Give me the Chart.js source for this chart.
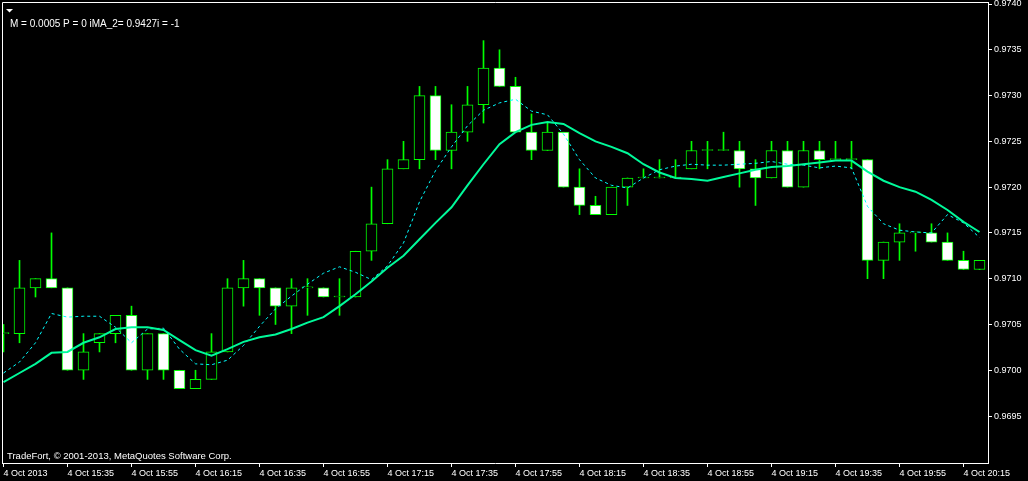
<!DOCTYPE html>
<html>
<head>
<meta charset="utf-8">
<script src="https://cdn.jsdelivr.net/npm/chart.js@4.4.0/dist/chart.umd.min.js"></script>
<style>
html, body { margin: 0; padding: 0; background: #000; }
canvas { display: block; }
</style>
</head>
<body>
<canvas id="chart" width="1028" height="481"></canvas>
<script>
// 5 minute bars, 4 Oct 2013
const barTimes = ['15:15','15:20','15:25','15:30','15:35','15:40','15:45','15:50','15:55','16:00',
  '16:05','16:10','16:15','16:20','16:25','16:30','16:35','16:40','16:45','16:50',
  '16:55','17:00','17:05','17:10','17:15','17:20','17:25','17:30','17:35','17:40',
  '17:45','17:50','17:55','18:00','18:05','18:10','18:15','18:20','18:25','18:30',
  '18:35','18:40','18:45','18:50','18:55','19:00','19:05','19:10','19:15','19:20',
  '19:25','19:30','19:35','19:40','19:45','19:50','19:55','20:00','20:05','20:10',
  '20:15','20:20'];

const opens = [0.9704,0.9704,0.9709,0.9710,0.9709,0.9700,0.9703,0.9704,0.9706,0.9700,
  0.9704,0.9700,0.9698,0.9699,0.9702,0.9709,0.9710,0.9709,0.9707,0.9709,
  0.9709,0.9708,0.9708,0.9713,0.9716,0.9722,0.9723,0.9730,0.9724,0.9726,
  0.9729,0.9733,0.9731,0.9726,0.9724,0.9726,0.9720,0.9718,0.9717,0.9720,
  0.9721,0.9721,0.9721,0.9722,0.9724,0.9724,0.9724,0.9722,0.9721,0.9724,
  0.9720,0.9724,0.9723,0.9723,0.9723,0.9712,0.9714,0.9715,0.9715,0.9714,
  0.9712,0.9711];
const highs = [0.9705,0.9712,0.9710,0.9715,0.9709,0.9704,0.9704,0.9706,0.9707,0.9704,
  0.9704,0.9700,0.9700,0.9704,0.9710,0.9712,0.9710,0.9709,0.9710,0.9710,
  0.9709,0.9710,0.9713,0.9720,0.9723,0.9725,0.9731,0.9731,0.9729,0.9731,
  0.9736,0.9735,0.9732,0.9728,0.9727,0.9726,0.9722,0.9719,0.9720,0.9721,
  0.9722,0.9723,0.9723,0.9725,0.9725,0.9726,0.9725,0.9723,0.9725,0.9725,
  0.9725,0.9725,0.9725,0.9725,0.9723,0.9714,0.9716,0.9715,0.9716,0.9715,
  0.9713,0.9712];
const lows = [0.9702,0.9703,0.9708,0.9709,0.9700,0.9699,0.9702,0.9703,0.9700,0.9699,
  0.9699,0.9698,0.9698,0.9699,0.9702,0.9707,0.9706,0.9705,0.9704,0.9706,
  0.9708,0.9706,0.9708,0.9712,0.9716,0.9722,0.9722,0.9723,0.9722,0.9725,
  0.9727,0.9731,0.9726,0.9723,0.9724,0.9720,0.9717,0.9717,0.9717,0.9718,
  0.9721,0.9721,0.9721,0.9722,0.9722,0.9724,0.9720,0.9718,0.9721,0.9720,
  0.9720,0.9722,0.9723,0.9722,0.9710,0.9710,0.9712,0.9713,0.9714,0.9712,
  0.9711,0.9711];
const closes = [0.9704,0.9709,0.9710,0.9709,0.9700,0.9702,0.9704,0.9706,0.9700,0.9704,
  0.9700,0.9698,0.9699,0.9702,0.9709,0.9710,0.9709,0.9707,0.9709,0.9709,
  0.9708,0.9708,0.9713,0.9716,0.9722,0.9723,0.9730,0.9724,0.9726,0.9729,
  0.9733,0.9731,0.9726,0.9724,0.9726,0.9720,0.9718,0.9717,0.9720,0.9721,
  0.9721,0.9721,0.9721,0.9724,0.9724,0.9724,0.9722,0.9721,0.9724,0.9720,
  0.9724,0.9723,0.9723,0.9723,0.9712,0.9714,0.9715,0.9715,0.9714,0.9712,
  0.9711,0.9712];

// solid moving average
const maSlow = [0.96987,0.96997,0.97007,0.97019,0.97020,0.97030,0.97036,0.97045,0.97047,0.97047,
  0.97044,0.97033,0.97022,0.97016,0.97023,0.97031,0.97036,0.97039,0.97045,0.97052,
  0.97058,0.97070,0.97083,0.97097,0.97112,0.97125,0.97143,0.97161,0.97178,0.97202,
  0.97225,0.97247,0.97260,0.97268,0.97271,0.97269,0.97259,0.97250,0.97244,0.97237,
  0.97225,0.97216,0.97210,0.97209,0.97207,0.97211,0.97215,0.97219,0.97222,0.97223,
  0.97225,0.97227,0.97229,0.97229,0.97217,0.97207,0.97200,0.97195,0.97186,0.97175,
  0.97162,0.97151];
// dashed moving average
const maFast = [0.96997,0.97009,0.97030,0.97062,0.97058,0.97059,0.97059,0.97047,0.97030,0.97045,
  0.97046,0.97023,0.97007,0.97006,0.97011,0.97027,0.97048,0.97067,0.97081,0.97094,
  0.97106,0.97113,0.97107,0.97099,0.97114,0.97139,0.97184,0.97218,0.97244,0.97267,
  0.97284,0.97292,0.97296,0.97283,0.97279,0.97258,0.97230,0.97210,0.97202,0.97199,
  0.97210,0.97219,0.97223,0.97225,0.97224,0.97224,0.97225,0.97226,0.97228,0.97225,
  0.97224,0.97221,0.97223,0.97221,0.97179,0.97160,0.97153,0.97151,0.97150,0.97170,
  0.97161,0.97145];

const xTickIndex = [0,4,8,12,16,20,24,28,32,36,40,44,48,52,56,60];
const xTickLabels = ['4 Oct 2013','4 Oct 15:35','4 Oct 15:55','4 Oct 16:15','4 Oct 16:35',
  '4 Oct 16:55','4 Oct 17:15','4 Oct 17:35','4 Oct 17:55','4 Oct 18:15','4 Oct 18:35',
  '4 Oct 18:55','4 Oct 19:15','4 Oct 19:35','4 Oct 19:55','4 Oct 20:15'];
const yTicks = [0.9695,0.9700,0.9705,0.9710,0.9715,0.9720,0.9725,0.9730,0.9735,0.9740];

const FONT = {family: 'Liberation Sans', size: 9};
const GREEN = '#00FF00';

Chart.defaults.font.family = FONT.family;
Chart.defaults.color = '#FFFFFF';

// candles: wick = thin floating bar, body = open/close floating bar
const wickData = barTimes.map((t, i) => ({x: i, y: [lows[i], highs[i]]}));
const bodyData = barTimes.map((t, i) => ({x: i, y: [opens[i], closes[i]]}));
const bodyFill = barTimes.map((t, i) => closes[i] < opens[i] ? '#FFFFFF' : '#000000');

const decorations = {
    id: 'decorations',
    beforeDraw(chart) {
        const ctx = chart.ctx;
        ctx.save();
        ctx.fillStyle = '#000';
        ctx.fillRect(0, 0, chart.width, chart.height);
        ctx.restore();
    },
    afterDraw(chart) {
        const ctx = chart.ctx;
        const a = chart.chartArea;
        ctx.save();
        // left + top frame
        ctx.strokeStyle = '#FFFFFF';
        ctx.lineWidth = 1;
        ctx.beginPath();
        ctx.moveTo(a.left + 0.5, a.bottom);
        ctx.lineTo(a.left + 0.5, a.top + 0.5);
        ctx.lineTo(a.right + 1, a.top + 0.5);
        ctx.stroke();
        // little menu triangle
        ctx.fillStyle = '#FFFFFF';
        ctx.beginPath();
        ctx.moveTo(6, 9);
        ctx.lineTo(13, 9);
        ctx.lineTo(9.5, 12.5);
        ctx.closePath();
        ctx.fill();
        ctx.textBaseline = 'alphabetic';
        ctx.font = '10px ' + FONT.family;
        ctx.fillText('M = 0.0005 P = 0 iMA_2= 0.9427i = -1', 10, 27);
        ctx.font = '9.5px ' + FONT.family;
        ctx.fillText('TradeFort, \u00A9 2001-2013, MetaQuotes Software Corp.', 7, 459);
        ctx.restore();
    }
};

new Chart(document.getElementById('chart'), {
    type: 'bar',
    data: {
        datasets: [
            {
                type: 'line',
                label: 'MA slow',
                data: barTimes.map((t, i) => ({x: i, y: maSlow[i]})),
                borderColor: '#00FA9A',
                borderWidth: 2,
                pointRadius: 0,
                tension: 0,
                fill: false,
                order: 0
            },
            {
                type: 'line',
                label: 'MA fast',
                data: barTimes.map((t, i) => ({x: i, y: maFast[i]})),
                borderColor: '#00FFFF',
                borderWidth: 1,
                borderDash: [3, 3],
                pointRadius: 0,
                tension: 0,
                fill: false,
                order: 0
            },
            {
                label: 'body',
                data: bodyData,
                backgroundColor: bodyFill,
                borderColor: GREEN,
                borderWidth: 1,
                borderSkipped: false,
                barThickness: 11,
                minBarLength: 1,
                grouped: false,
                order: 1
            },
            {
                label: 'wick',
                data: wickData,
                backgroundColor: GREEN,
                borderWidth: 0,
                barThickness: 1,
                grouped: false,
                order: 2
            }
        ]
    },
    options: {
        responsive: false,
        maintainAspectRatio: false,
        animation: false,
        events: [],
        layout: {padding: {left: 2, top: 2, right: 0, bottom: 0}},
        plugins: {
            legend: {display: false},
            tooltip: {enabled: false},
            title: {display: false}
        },
        scales: {
            x: {
                type: 'linear',
                position: 'bottom',
                min: -0.09375,
                max: 61.53125,
                bounds: 'data',
                offset: false,
                afterBuildTicks: s => { s.ticks = xTickIndex.map(v => ({value: v})); },
                afterFit: s => { s.height = 18; s.paddingLeft = 0; s.paddingRight = 0; },
                ticks: {
                    callback: (v, i) => xTickLabels[i],
                    align: 'start',
                    autoSkip: false,
                    maxRotation: 0,
                    minRotation: 0,
                    padding: 1,
                    color: '#FFFFFF',
                    font: FONT
                },
                grid: {display: true, drawOnChartArea: false, drawTicks: true, tickLength: 4, color: '#FFFFFF', offset: false},
                border: {display: true, color: '#FFFFFF', width: 1}
            },
            y: {
                type: 'linear',
                position: 'right',
                min: 0.968987,
                max: 0.974022,
                bounds: 'data',
                afterBuildTicks: s => { s.ticks = yTicks.map(v => ({value: v})); },
                afterFit: s => { s.width = 40; s.paddingTop = 0; s.paddingBottom = 0; },
                ticks: {
                    callback: v => v.toFixed(4),
                    padding: 2,
                    color: '#FFFFFF',
                    font: FONT
                },
                grid: {display: true, drawOnChartArea: false, drawTicks: true, tickLength: 4, color: '#FFFFFF'},
                border: {display: true, color: '#FFFFFF', width: 1}
            }
        }
    },
    plugins: [decorations]
});
</script>
</body>
</html>
